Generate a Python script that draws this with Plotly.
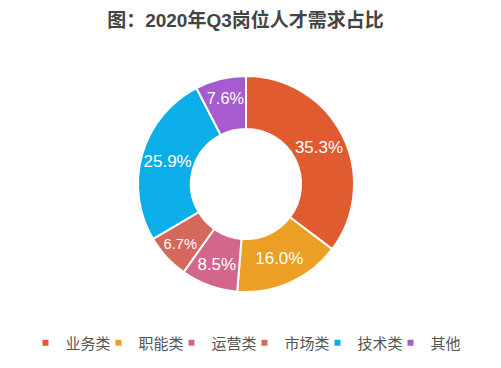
import plotly.graph_objects as go

categories = ["业务类", "职能类", "运营类", "市场类", "技术类", "其他"]
values = [35.3, 16.0, 8.5, 6.7, 25.9, 7.6]
colors = ["#E05B30", "#EBA025", "#D3668B", "#D4685C", "#0BAEE9", "#A75BD0"]

FONT = "Liberation Sans, Arial, Noto Sans CJK SC, sans-serif"

fig = go.Figure()
fig.add_trace(go.Pie(
    labels=categories,
    values=values,
    hole=0.51,
    sort=False,
    direction="clockwise",
    rotation=0,
    showlegend=False,
    marker=dict(colors=colors, line=dict(color="white", width=2)),
    texttemplate="%{value:.1f}%",
    textposition="inside",
    insidetextorientation="horizontal",
    insidetextfont=dict(color="white", size=17, family=FONT),
    hoverinfo="label+percent",
    domain=dict(x=[138/501, 354/501], y=[0, 1]),
))

# legend entries with small square markers
for name, col in zip(categories, colors):
    fig.add_trace(go.Scatter(x=[None], y=[None], mode="markers", name=name,
                             marker=dict(symbol="square", size=6, color=col),
                             hoverinfo="skip"))

fig.update_xaxes(visible=False)
fig.update_yaxes(visible=False)

fig.update_layout(
    width=501, height=368,
    margin=dict(l=0, r=0, t=76, b=76),
    paper_bgcolor="white",
    plot_bgcolor="white",
    title=dict(text="<b>图：2020年Q3岗位人才需求占比</b>", x=0.49, xanchor="center",
               y=1 - 20/368, yanchor="middle",
               font=dict(size=19, color="#444444", family=FONT)),
    legend=dict(orientation="h", x=0.488, xanchor="center", y=-0.236, yanchor="middle",
                font=dict(size=15, color="#555555", family=FONT),
                itemwidth=30, traceorder="normal", entrywidth=28, entrywidthmode="pixels"),
)

fig.write_html("out.html", post_script="document.body.style.margin='0px';",
               config={"displayModeBar": False})
